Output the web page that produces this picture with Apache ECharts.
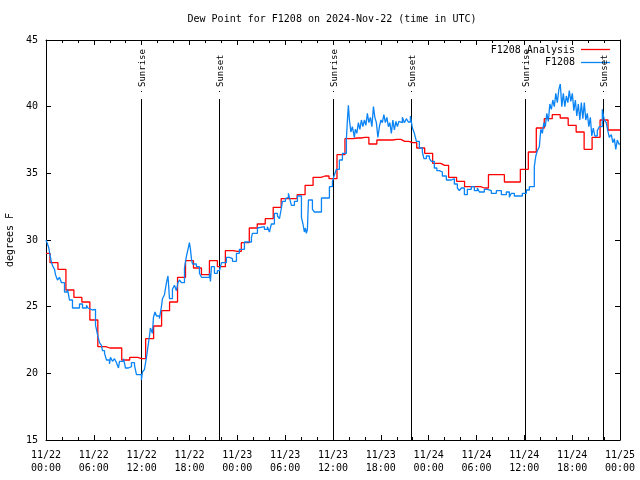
<!DOCTYPE html>
<html><head><meta charset="utf-8">
<script src="https://cdn.jsdelivr.net/npm/echarts@6/dist/echarts.min.js"></script>
<style>html,body{margin:0;padding:0;background:#fff}#c{width:640px;height:480px}</style>
</head><body><div id="c"></div>
<script>
// Hours since 2024-11-22 00:00 UTC
const analysisHours = [0,1,2,3,4,5,6,7,8,9,10,11,12,13,14,15,16,17,18,19,20,21,22,23,24,25,26,27,28,29,30,31,32,33,34,35,36,37,38,39,40,41,42,43,44,45,46,47,48,49,50,51,52,53,54,55,56,57,58,59,60,61,62,63,64,65,66,67,68,69,70,71,72];
const analysisValues = [29.0,28.3,27.8,26.25,25.7,25.35,24.0,22.0,21.9,21.9,21.0,21.2,21.1,22.6,23.55,24.7,25.35,27.2,28.45,27.9,27.4,28.45,28.0,29.2,29.15,29.8,30.9,31.2,31.6,32.45,33.1,33.1,33.4,34.1,34.7,34.8,34.6,36.4,37.6,37.65,37.7,37.2,37.5,37.5,37.55,37.4,37.3,36.9,36.5,35.75,35.6,34.7,34.4,34.0,34.0,33.9,34.9,34.9,34.35,34.35,35.3,36.6,38.4,39.1,39.4,39.15,38.6,38.1,36.8,37.7,39.0,38.25,38.25];

const obsHours = [0.0,0.19,0.35,0.44,0.69,0.88,1.07,1.19,1.44,1.69,1.94,2.32,2.70,2.95,3.32,4.20,4.58,5.08,5.27,5.45,5.83,6.02,6.21,6.33,6.46,6.71,6.96,7.08,7.34,7.59,7.96,8.09,8.34,8.59,8.84,9.09,9.22,9.47,9.72,9.97,10.34,10.72,11.10,11.35,11.97,12.10,12.35,12.60,12.79,12.98,13.10,13.35,13.48,13.67,13.86,14.23,14.48,14.61,14.86,15.11,15.30,15.49,15.86,16.11,16.36,16.55,16.74,16.99,17.37,17.62,17.81,17.99,18.12,18.24,18.37,18.87,19.25,19.50,20.50,20.63,20.75,21.13,21.50,21.76,22.01,22.63,23.01,23.39,23.89,24.26,24.89,25.77,25.89,26.52,26.77,27.40,27.77,28.02,28.27,28.65,29.03,29.28,29.53,29.65,30.03,30.28,30.41,30.53,30.78,31.16,31.54,32.04,32.23,32.41,32.54,32.66,32.79,32.92,33.42,33.67,34.55,35.55,35.93,36.18,36.43,36.80,37.18,37.68,37.81,37.93,
  38.06,38.24,38.43,38.68,38.80,38.99,39.18,39.37,39.56,39.75,39.94,40.13,40.31,40.50,40.69,40.88,41.07,41.25,41.44,41.63,41.82,42.01,42.19,42.38,42.57,42.76,42.95,43.13,43.32,43.51,43.70,43.89,44.08,44.26,44.45,44.70,44.95,45.20,45.45,45.71,
  45.96,46.21,46.46,46.83,47.21,47.40,47.71,48.09,48.34,48.71,49.03,49.34,49.72,50.22,50.85,51.22,51.60,51.85,52.10,52.48,52.85,53.35,53.73,54.11,54.36,54.61,54.98,55.36,55.86,56.49,57.12,57.74,58.12,58.37,58.75,59.75,60.25,60.63,61.25,61.44,61.63,
  61.88,62.07,62.26,62.45,62.63,62.82,63.01,63.20,63.39,63.57,63.76,63.95,64.14,64.33,64.51,64.70,64.89,65.08,65.27,65.46,65.64,65.83,66.02,66.21,66.40,66.58,66.77,66.96,67.15,67.34,67.52,67.71,67.90,68.09,68.28,68.46,68.65,68.84,69.15,69.40,69.78,70.03,70.28,70.47,70.66,70.91,71.10,71.29,71.47,71.66,71.85,72.0];
const obsValues = [30.0,29.7,29.4,29.1,28.3,28.0,27.8,27.4,27.0,27.2,26.8,26.1,26.3,25.5,24.9,25.2,24.9,25.1,24.9,24.75,24.6,24.8,23.6,23.3,22.9,22.3,22.1,21.7,21.5,21.0,20.7,21.2,20.9,21.1,20.8,20.4,20.9,20.9,21.1,20.4,20.5,20.8,20.6,19.9,19.5,20.1,20.3,21.2,22.0,22.8,23.4,23.0,24.2,24.6,24.3,24.1,25.0,25.6,25.9,26.8,27.3,25.6,26.3,26.6,26.2,26.8,27.0,26.8,27.9,28.8,29.3,29.8,29.3,28.6,28.2,28.0,27.5,27.2,27.5,26.9,28.0,27.5,27.7,27.8,28.3,28.7,28.6,28.4,29.0,29.3,29.85,30.2,30.5,30.9,31.0,30.8,31.0,30.6,31.2,32.0,31.8,31.6,32.4,32.9,33.1,33.2,33.5,33.2,32.6,32.9,33.3,31.7,31.2,30.6,30.9,30.5,30.8,33.0,32.3,32.1,33.15,34.0,34.4,34.9,35.3,36.0,36.5,37.6,39.0,40.1,
  39.0,38.1,38.5,37.7,38.3,38.0,38.8,38.3,39.0,38.5,39.0,38.6,39.5,38.8,39.2,38.5,40.0,39.2,38.8,37.7,38.5,39.0,38.8,39.4,38.8,39.2,38.5,38.8,38.0,39.0,38.25,38.9,38.5,38.9,38.8,39.2,38.8,39.1,38.85,39.3,
  38.4,38.0,37.4,36.9,36.6,36.1,36.3,36.1,35.9,35.4,35.2,35.1,34.8,34.5,34.6,34.2,33.9,33.7,33.9,33.4,33.8,34.0,33.7,33.9,33.6,33.6,33.8,33.7,33.5,33.7,33.4,33.6,33.2,33.5,33.3,33.5,33.75,34.0,35.5,36.3,36.7,
  37.0,38.3,38.0,38.8,38.5,39.5,38.9,40.2,39.8,40.5,40.0,41.0,40.3,41.3,41.7,40.0,41.0,40.0,40.8,40.3,41.2,40.4,41.0,39.7,40.5,39.3,40.2,39.0,40.3,39.1,40.3,39.0,39.5,38.5,39.2,37.8,38.4,37.8,38.2,38.5,39.8,39.0,38.8,38.2,37.7,37.9,37.3,37.6,36.8,37.5,37.2,37.2];

const sunEventHours = [11.97, 21.76, 36.05, 45.83, 60.13, 69.91];
const sunEventLabels = ['Sunrise','Sunset','Sunrise','Sunset','Sunrise','Sunset'];
const sunLineTopValue = 40.6;

const xMin = 0, xMax = 72, xStep = 6;
const yMin = 15, yMax = 45, yStep = 5;
const dayLabels = ['11/22','11/23','11/24','11/25'];
const seriesNames = ['F1208 Analysis','F1208'];
const titleText = 'Dew Point for F1208 on 2024-Nov-22 (time in UTC)';
const yName = 'degrees F';

const FONT = "'DejaVu Sans Mono', 'Liberation Mono', monospace";
const RED = '#ff0000', BLUE = '#0a84f5';
const chart = echarts.init(document.getElementById('c'), null, {renderer:'canvas'});

function fmtX(v){
  const d = Math.floor(v/24), h = Math.round(v - d*24);
  return dayLabels[d] + '\n' + (h<10?'0':'') + h + ':00';
}
const axisCommon = {
  axisLine:{show:true,onZero:false,lineStyle:{color:'#000',width:1}},
  axisTick:{show:true,inside:true,length:5,lineStyle:{color:'#000',width:1}},
  splitLine:{show:false}
};
const xAxisBase = Object.assign({type:'value',min:xMin,max:xMax,interval:xStep,
  minorTick:{show:true,splitNumber:3,length:3,lineStyle:{color:'#000',width:1}}}, axisCommon);
const yAxisBase = Object.assign({type:'value',min:yMin,max:yMax,interval:yStep}, axisCommon);

chart.setOption({
  animation:false,
  backgroundColor:'#fff',
  grid:{left:46,right:20,top:40,bottom:40,containLabel:false},
  xAxis:[
    Object.assign({}, xAxisBase, {position:'bottom',
      axisLabel:{formatter:fmtX,color:'#000',fontFamily:FONT,fontSize:10,lineHeight:13,margin:9}}),
    Object.assign({}, xAxisBase, {position:'top',axisLabel:{show:false}})
  ],
  yAxis:[
    Object.assign({}, yAxisBase, {position:'left',
      axisLabel:{color:'#000',fontFamily:FONT,fontSize:10,margin:8}}),
    Object.assign({}, yAxisBase, {position:'right',axisLabel:{show:false}})
  ],
  graphic:[
    {type:'text',x:332,y:19,style:{text:titleText,font:'10px '+FONT,fill:'#000',align:'center',verticalAlign:'middle'}},
    {type:'text',x:10,y:240,rotation:Math.PI/2,style:{text:yName,font:'10px '+FONT,fill:'#000',align:'center',verticalAlign:'middle'}},
    {type:'text',x:575,y:50,style:{text:seriesNames[0],font:'10px '+FONT,fill:'#000',align:'right',verticalAlign:'middle'}},
    {type:'line',shape:{x1:581,y1:49.5,x2:610,y2:49.5},style:{stroke:RED,lineWidth:1.3}},
    {type:'text',x:575,y:62.5,style:{text:seriesNames[1],font:'10px '+FONT,fill:'#000',align:'right',verticalAlign:'middle'}},
    {type:'line',shape:{x1:581,y1:62.5,x2:610,y2:62.5},style:{stroke:BLUE,lineWidth:1.3}}
  ],
  series:[
    {type:'custom',name:'sun',xAxisIndex:0,yAxisIndex:0,z:1,
     data:sunEventHours.map((h,i)=>[h,i]),
     renderItem:function(params,api){
       const h = api.value(0), idx = api.value(1);
       const top = api.coord([h, sunLineTopValue]);
       const bot = api.coord([h, yMin]);
       const lx = Math.round(top[0]) + 0.5;
       return {type:'group',children:[
         {type:'line',shape:{x1:lx,y1:Math.round(top[1]),x2:lx,y2:bot[1]},style:{stroke:'#000',lineWidth:1}},
         {type:'rect',shape:{x:lx-0.5,y:Math.round(top[1])-8,width:1,height:1},style:{fill:'#000'}},
         {type:'text',x:lx+1,y:Math.round(top[1])-12,rotation:Math.PI/2,
          style:{text:sunEventLabels[idx],font:'9px '+FONT,fill:'#000',align:'left',verticalAlign:'middle'}}
       ]};
     }},
    {type:'line',name:seriesNames[0],xAxisIndex:0,yAxisIndex:0,z:2,
     data:analysisHours.map((h,i)=>[h,analysisValues[i]]),
     step:'middle',symbol:'none',lineStyle:{color:RED,width:1.3}},
    {type:'line',name:seriesNames[1],xAxisIndex:0,yAxisIndex:0,z:3,
     data:obsHours.map((h,i)=>[h,obsValues[i]]),
     step:'end',symbol:'none',lineStyle:{color:BLUE,width:1.3}}
  ]
});
</script></body></html>
